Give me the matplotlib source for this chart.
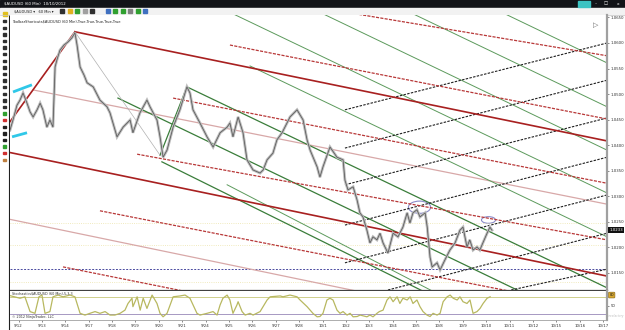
import matplotlib
matplotlib.use('Agg')
import matplotlib.pyplot as plt
from matplotlib.patches import Rectangle, Ellipse
import matplotlib.transforms as mtrans

# ---------------- data (day offset from 2012-09-12, price) ----------------
price_day = [-0.37, -0.24, -0.07, 0.06, 0.19, 0.36, 0.49, 0.62, 0.79, 0.92, 1.04, 1.21, 1.34, 1.47,
             1.56, 1.64, 1.77, 1.94, 2.11, 2.28, 2.41, 2.50, 2.63, 2.80, 2.93, 3.19, 3.48, 3.78, 3.91,
             4.21, 4.47, 4.77, 4.89, 5.19, 5.49, 5.62, 5.92, 6.05, 6.18, 6.35, 6.61, 6.90, 7.20, 7.33,
             7.46, 7.76, 8.06, 8.32, 8.62, 8.92, 9.04, 9.17, 9.39, 9.60, 9.77, 10.03, 10.33, 10.46,
             10.63, 10.88, 11.05, 11.27, 11.48, 11.61, 11.91, 12.17, 12.34, 12.47, 12.77, 12.89, 13.02,
             13.32, 13.62, 13.88, 13.96, 14.09, 14.31, 14.48, 14.60, 14.73, 14.90, 15.03, 15.16, 15.33,
             15.46, 15.59, 15.80, 16.02, 16.23, 16.44, 16.62, 16.74, 16.87, 17.04, 17.17, 17.39, 17.48,
             17.60, 17.69, 17.90, 18.03, 18.24, 18.45, 18.67, 18.88, 19.01, 19.18, 19.30, 19.44, 19.61,
             19.73, 19.86, 20.04, 20.16, 20.25]
price_val = [1.0429, 1.0449, 1.0478, 1.0488, 1.0502, 1.0482, 1.0465, 1.0455, 1.0469, 1.0482, 1.0469,
             1.0435, 1.0449, 1.0435, 1.0553, 1.0567, 1.0586, 1.0596, 1.0602, 1.0610, 1.0620, 1.0596,
             1.0553, 1.0537, 1.0522, 1.0514, 1.0488, 1.0475, 1.0463, 1.0416, 1.0435, 1.0449, 1.0424,
             1.0463, 1.0488, 1.0475, 1.0449, 1.0416, 1.0376, 1.0390, 1.0435, 1.0469, 1.0514, 1.0502,
             1.0469, 1.0443, 1.0416, 1.0396, 1.0424, 1.0435, 1.0443, 1.0416, 1.0455, 1.0424, 1.0371,
             1.0351, 1.0345, 1.0351, 1.0371, 1.0384, 1.0410, 1.0424, 1.0443, 1.0455, 1.0469, 1.0449,
             1.0410, 1.0390, 1.0357, 1.0337, 1.0357, 1.0396, 1.0376, 1.0371, 1.0331, 1.0312, 1.0318,
             1.0292, 1.0267, 1.0259, 1.0233, 1.0208, 1.0220, 1.0214, 1.0227, 1.0208, 1.0188, 1.0227,
             1.0220, 1.0239, 1.0267, 1.0247, 1.0267, 1.0273, 1.0259, 1.0267, 1.0239, 1.0180, 1.0161,
             1.0169, 1.0155, 1.0175, 1.0194, 1.0208, 1.0233, 1.0239, 1.0200, 1.0214, 1.0194, 1.0200,
             1.0194, 1.0208, 1.0227, 1.0239, 1.0233]

stoch_day = [-0.37, 0.06, 0.27, 0.49, 0.70, 0.87, 1.00, 1.13, 1.34, 1.47, 1.69, 1.90, 2.20, 2.41, 2.63,
             2.84, 3.05, 3.27, 3.48, 3.70, 3.91, 4.12, 4.34, 4.55, 4.68, 4.85, 4.89, 5.07, 5.20, 5.33,
             5.49, 5.71, 5.92, 6.05, 6.18, 6.35, 6.61, 6.91, 7.12, 7.33, 7.63, 7.76, 8.06, 8.32, 8.49,
             8.62, 8.74, 8.92, 9.04, 9.17, 9.34, 9.39, 9.56, 9.69, 9.90, 10.03, 10.33, 10.63, 10.76,
             11.19, 11.31, 11.61, 11.91, 12.04, 12.34, 12.59, 12.77, 12.89, 13.02, 13.19, 13.32, 13.45,
             13.62, 13.75, 13.88, 14.05, 14.18, 14.31, 14.48, 14.61, 14.90, 15.03, 15.16, 15.33, 15.43,
             15.59, 15.76, 15.89, 16.02, 16.19, 16.31, 16.44, 16.62, 16.75, 16.87, 17.04, 17.17, 17.30,
             17.47, 17.60, 17.73, 17.90, 18.03, 18.16, 18.33, 18.46, 18.59, 18.76, 18.88, 19.01, 19.18,
             19.31, 19.44, 19.61, 19.74, 19.87, 20.04, 20.17]
stoch_val = [84, 75, 80, 29, 23, 80, 86, 23, 29, 80, 86, 80, 86, 80, 23, 17, 23, 29, 23, 29, 17, 17, 23,
             34, 57, 75, 46, 80, 34, 75, 40, 86, 57, 23, 11, 23, 80, 83, 86, 75, 23, 17, 23, 29, 17, 52,
             75, 86, 69, 23, 52, 63, 29, 17, 23, 17, 29, 69, 80, 83, 80, 86, 80, 69, 46, 23, 11, 12, 23,
             69, 75, 69, 34, 23, 29, 17, 23, 11, 12, 17, 11, 17, 11, 23, 29, 34, 69, 80, 63, 80, 57, 75,
             69, 80, 57, 69, 46, 29, 17, 12, 23, 17, 23, 63, 80, 86, 75, 69, 80, 63, 57, 69, 23, 29, 40,
             57, 75, 80]

date_labels = ["9/12", "9/13", "9/14", "9/17", "9/18", "9/19", "9/20", "9/21", "9/24", "9/25", "9/26",
               "9/27", "9/28", "10/1", "10/2", "10/3", "10/4", "10/5", "10/8", "10/9", "10/10", "10/11",
               "10/12", "10/15", "10/16", "10/17"]
price_ticks = [1.0150, 1.0200, 1.0250, 1.0300, 1.0350, 1.0400, 1.0450, 1.0500, 1.0550, 1.0600, 1.0650]
last_price = 1.0233

# drawing-tool lines: (day0, price0, day1, price1)
red_solid = [(-0.41, 1.0443, 2.41, 1.0622), (2.41, 1.0622, 25.17, 1.0408), (-0.45, 1.0386, 25.17, 1.0143)]
pink_solid = [(0.62, 1.0508, 25.17, 1.0284), (-0.45, 1.0255, 25.17, 1.0012)]
red_dashed = [(14.18, 1.0659, 25.17, 1.0575), (9.04, 1.0596, 25.17, 1.0451), (6.61, 1.0492, 25.17, 1.0325),
              (5.07, 1.0382, 25.17, 1.0214), (3.48, 1.0271, 25.17, 1.0076), (1.90, 1.0161, 25.17, 0.9947)]
green_dark = [(6.05, 1.0380, 7.20, 1.0514), (7.20, 1.0514, 25.17, 1.0120), (6.13, 1.0367, 25.17, 0.99347),
              (4.25, 1.0492, 25.17, 1.0031)]
green_light = [(20.72, 1.0659, 25.17, 1.0561), (16.79, 1.0659, 25.17, 1.0475), (12.94, 1.0659, 25.17, 1.0390),
               (9.09, 1.0659, 25.17, 1.0306), (9.90, 1.0555, 25.17, 1.0220), (8.92, 1.0322, 25.17, 0.99365)]
black_dashed = [(13.96, 1.0469, 25.17, 1.0600), (13.96, 1.0394, 25.17, 1.0527), (13.96, 1.0322, 25.17, 1.0453),
                (13.96, 1.0243, 25.17, 1.0376), (13.96, 1.0169, 25.17, 1.0302), (15.80, 1.01157, 25.17, 1.0227),
                (21.07, 1.01157, 25.17, 1.01565)]
grey_thin = [(2.41, 1.0622, 6.05, 1.0380)]
cyan_lines = [(-0.24, 1.0504, 0.57, 1.0518), (-0.28, 1.0416, 0.36, 1.0424)]
purple_level = 1.01565
yellow_levels = [1.0247, 1.0204, 1.0131]
ellipses = [(17.15, 1.0278, 0.95, 0.0024), (20.10, 1.0253, 0.6, 0.0013)]

# ---------------- figure ----------------
W, H = 625, 330
fig = plt.figure(figsize=(W / 100, H / 100), dpi=100)
fig.patch.set_facecolor('white')


def px_axes(x0, y0, x1, y1, **kw):
    return fig.add_axes([x0 / W, 1 - y1 / H, (x1 - x0) / W, (y1 - y0) / H], **kw)


# chrome layer
chrome = px_axes(0, 0, W, H)
chrome.set_xlim(0, W)
chrome.set_ylim(H, 0)
chrome.axis('off')
chrome.add_patch(Rectangle((0, 0), W, 7.5, color='#121418'))
chrome.add_patch(Rectangle((0, 7.5), W, 7.5, color='#f2f2f2'))
chrome.add_patch(Rectangle((0, 15), 9, H - 15, color='#ffffff'))
chrome.plot([9, 9], [15, H], color='#202020', lw=0.8)
chrome.plot([0, W], [15, 15], color='#c8c8c8', lw=0.5)
chrome.text(4, 3.8, "$AUDUSD (60 Min)  10/10/2012", color='white', fontsize=2.8, va='center')
chrome.add_patch(Rectangle((578, 1), 12, 5.5, color='#3cc3c3'))
chrome.text(596, 3.8, "\u2013", color='white', fontsize=3.2, va='center', ha='center')
chrome.text(606, 3.8, "\u25a1", color='white', fontsize=3.2, va='center', ha='center')
chrome.text(618, 3.8, "x", color='white', fontsize=3.2, va='center', ha='center')
chrome.text(14, 11.2, "$AUDUSD \u25be   60 Min \u25be", color='#202020', fontsize=2.6, va='center')
tb_cols = ['#303030', '#e0b020', '#30a030', '#a0a0a0', '#303030', '#4070c0', '#30a030', '#30a030',
           '#808080', '#30a030', '#4070c0']
for i, c in enumerate(tb_cols):
    chrome.add_patch(Rectangle((60 + i * 7.5 + (8 if i > 4 else 0), 9), 4, 4, color=c))
chrome.add_patch(Rectangle((2.5, 12), 4, 4, color='#e0c020'))
left_icons = ['#303030'] * 14 + ['#30a030', '#d03030', '#202020', '#202020', '#202020', '#30a030',
                                  '#d03030', '#c08040']
for i, c in enumerate(left_icons):
    chrome.add_patch(Rectangle((2.5, 20 + i * 6.6), 3.5, 2.4, color=c))

# ---------------- main price axes ----------------
d_lo, d_hi = -0.368, 25.17
ax = px_axes(10, 15, 607, 290)
ax.set_xlim(d_lo, d_hi)
ax.set_ylim(1.01157, 1.06549)
ax.set_facecolor('white')

for y in yellow_levels:
    ax.axhline(y, color='#ece3a8', lw=0.6, ls=':')
ax.axhline(purple_level, color='#4a4aa0', lw=0.7, ls=(0, (2, 1.5)))


def draw(lines, **kw):
    for d0, p0, d1, p1 in lines:
        ax.plot([d0, d1], [p0, p1], **kw)


draw(pink_solid, color='#d8a8a8', lw=0.9)
draw(green_light, color='#5c9a5c', lw=0.7)
draw(green_dark, color='#3a7d3a', lw=0.9)
draw(black_dashed, color='#202020', lw=0.8, ls=(0, (2.2, 1.2)))
draw(red_dashed, color='#b83838', lw=0.9, ls=(0, (2.5, 1.0)))
draw(red_solid, color='#a82020', lw=1.2)
draw(grey_thin, color='#b0b0b0', lw=0.5)
draw(cyan_lines, color='#30c8e8', lw=2.0, solid_capstyle='butt')

ax.plot(price_day, price_val, color='#bdbdbd', lw=2.0, solid_joinstyle='miter')
ax.plot(price_day, price_val, color='#585858', lw=0.55)

for cx, cy, w, h in ellipses:
    ax.add_patch(Ellipse((cx, cy), w, h, fill=False, ec='#8a8ac8', lw=0.8))

ax.set_xticks([])
ax.yaxis.tick_right()
ax.set_yticks(price_ticks)
ax.set_yticklabels([f"{v:.4f}" for v in price_ticks])
ax.tick_params(axis='y', labelsize=2.8, length=1.5, width=0.4, pad=1, colors='#303030')
for s in ['top', 'left']:
    ax.spines[s].set_visible(False)
ax.spines['right'].set_color('#a0a0a0')
ax.spines['right'].set_linewidth(1.6)
ax.spines['bottom'].set_color('#404040')
ax.spines['bottom'].set_linewidth(0.9)
ax.text(0.003, 0.985, "ToolbarShortcuts$AUDUSD (60 Min),True,True,True,True,True", transform=ax.transAxes,
        fontsize=2.6, va='top', ha='left', color='#202020')
tr = mtrans.blended_transform_factory(ax.transAxes, ax.transData)
ax.text(1.004, last_price, f"{last_price:.4f}", transform=tr, fontsize=2.8, color='white', va='center',
        ha='left', bbox=dict(boxstyle='square,pad=0.25', fc='#101010', ec='none'))
ax.text(0.985, 0.975, "\u25b7", transform=ax.transAxes, fontsize=5, color='#606060', va='top', ha='right')

# ---------------- stochastics panel ----------------
ax2 = px_axes(10, 291, 607, 320)
ax2.set_xlim(d_lo, d_hi)
ax2.set_ylim(0, 100)
ax2.axhline(80, color='#c8c878', lw=0.6)
ax2.axhline(20, color='#9888b8', lw=0.6)
ax2.plot(stoch_day, stoch_val, color='#b8b860', lw=0.9)
ax2.set_xticks(range(len(date_labels)))
ax2.set_xticklabels(date_labels)
ax2.tick_params(axis='x', labelsize=2.8, length=1.5, width=0.4, pad=1.2, colors='#303030')
ax2.yaxis.tick_right()
ax2.set_yticks([50])
ax2.set_yticklabels(["50"])
ax2.tick_params(axis='y', labelsize=2.8, length=1.5, width=0.4, pad=1, colors='#303030')
for s in ['top', 'left']:
    ax2.spines[s].set_visible(False)
ax2.spines['right'].set_color('#a0a0a0')
ax2.spines['right'].set_linewidth(1.6)
ax2.spines['bottom'].set_color('#a0a0a0')
ax2.spines['bottom'].set_linewidth(0.6)
ax2.text(0.003, 0.97, "Stochastics$AUDUSD (60 Min),5,3,3", transform=ax2.transAxes, fontsize=2.4,
         va='top', color='#303030')
ax2.text(0.003, 0.05, "\u00a9 2012 NinjaTrader, LLC", transform=ax2.transAxes, fontsize=2.4,
         va='bottom', color='#303030')
tr2 = mtrans.blended_transform_factory(ax2.transAxes, ax2.transData)
ax2.text(1.004, stoch_val[-1] + 6, f"{stoch_val[-1]:.0f}", transform=tr2, fontsize=2.6, color='#202020',
         va='center', ha='left', bbox=dict(boxstyle='round,pad=0.25', fc='#d8a830', ec='#806010', lw=0.4))

chrome.text(624, 316, "forexfactory", color='#c0c0c0', fontsize=2.1, ha='right', va='center', style='italic')

fig.savefig('out.png', dpi=100, facecolor=fig.get_facecolor())
